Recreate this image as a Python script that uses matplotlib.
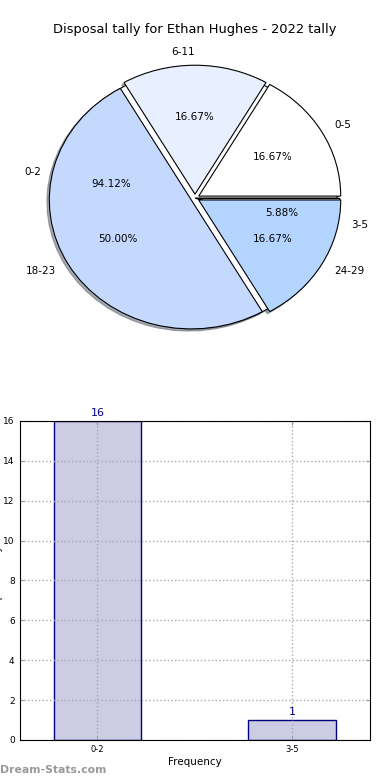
import matplotlib
matplotlib.use("Agg")
import matplotlib.pyplot as plt
import numpy as np

title = "Disposal tally for Ethan Hughes - 2022 tally"

# tally buckets (first pie + bar chart)
ranges_a = ["0-2", "3-5"]
counts_a = [16, 1]

# second set of buckets drawn over the first pie
ranges_b = ["0-5", "6-11", "18-23", "24-29"]
counts_b = [1, 1, 3, 1]

pie_colors = ["#ffffff", "#e8f0ff", "#c5d9ff", "#b3d5ff"]

fig = plt.figure(figsize=(3.9, 7.8), dpi=100)

# --- pie ---
ax1 = fig.add_axes([0, 0.5436, 1, 0.405])
wp = {"linewidth": 0.8, "edgecolor": "black"}
tp = {"fontsize": 7.5}
shad = {"ox": -0.012, "oy": -0.012, "shade": 0.6}
ax1.pie(counts_a, labels=ranges_a, colors=pie_colors[:2], autopct="%.2f%%",
        shadow=shad, explode=[0, 0.02], wedgeprops=wp, textprops=tp)
_, texts_b, _ = ax1.pie(counts_b, labels=ranges_b, colors=pie_colors, autopct="%.2f%%",
                        shadow=shad, explode=[0.03] * 4, wedgeprops=wp, textprops=tp)
texts_b[1].set_ha("right")
ax1.set_aspect("auto")
ax1.set_xlim(-1.373, 1.373)
ax1.set_ylim(-1.225, 1.225)
fig.text(0.5, 1 - 30 / 780, title, ha="center", va="center", fontsize=9.4)

# --- bars ---
ax2 = fig.add_axes([0.05, 0.0513, 0.8987, 0.409])
x = np.arange(len(ranges_a))
ax2.bar(x, counts_a, width=0.45, color="#ccccE5", edgecolor="navy", linewidth=1, zorder=0.3)
for xi, v in zip(x, counts_a):
    ax2.text(xi, v + 0.15, str(v), ha="center", va="bottom", color="navy", fontsize=8)
ax2.set_xlim(-0.4, 1.4)
ax2.set_ylim(0, 16)
ax2.set_yticks(range(0, 17, 2))
ax2.set_xticks(x)
ax2.set_xticklabels(ranges_a)
ax2.tick_params(axis="y", labelsize=6.5)
ax2.tick_params(axis="x", labelsize=6)
ax2.tick_params(direction="in", length=3, color="#999999", top=True, right=True)
ax2.set_axisbelow(True)
ax2.grid(True, linestyle=":", color="#aaaaaa", linewidth=1)
ax2.set_xlabel("Frequency", fontsize=7.5, labelpad=2)
ax2.set_ylabel("Disposal Tally", fontsize=7.5)
ax2.yaxis.set_label_coords(-0.047, 0.5)

fig.text(0.0, 1 - 770 / 780, "Dream-Stats.com", color="#999999", fontsize=7.8,
         fontweight="bold", va="center", ha="left")

fig.savefig("out.png", dpi=100)
